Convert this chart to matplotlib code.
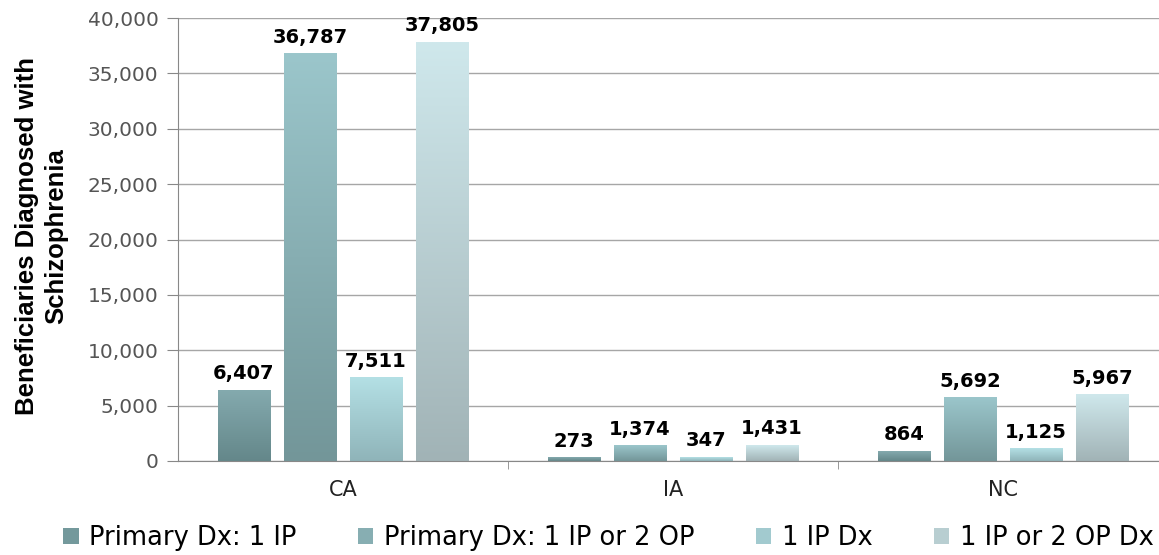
import numpy as np
import matplotlib
matplotlib.use("Agg")
import matplotlib.pyplot as plt
from matplotlib.colors import LinearSegmentedColormap, to_rgb
from matplotlib.patches import Patch
from matplotlib.ticker import FuncFormatter

states = ["CA", "IA", "NC"]
series = ["Primary Dx: 1 IP", "Primary Dx: 1 IP or 2 OP", "1 IP Dx", "1 IP or 2 OP Dx"]
primary_1ip = [6407, 273, 864]
primary_1ip_2op = [36787, 1374, 5692]
ip_dx = [7511, 347, 1125]
ip_op_dx = [37805, 1431, 5967]

# (bottom, top) colour of each series' vertical gradient
grads = [("#64878a", "#84aaae"),
         ("#739699", "#9bc6cb"),
         ("#8fb4b9", "#b4e0e5"),
         ("#a1b3b6", "#cfe8ec")]

fig = plt.figure(figsize=(11.59, 5.55), dpi=100)
ax = fig.add_axes([178 / 1159, 1 - 461 / 555, 990 / 1159, (461 - 18) / 555])

values = [primary_1ip, primary_1ip_2op, ip_dx, ip_op_dx]
x = np.arange(len(states))
w = 0.158
offsets = [-0.3, -0.1, 0.1, 0.3]
grad = np.linspace(0, 1, 256).reshape(-1, 1)

for vals, off, (c0, c1) in zip(values, offsets, grads):
    cmap = LinearSegmentedColormap.from_list("g", [c0, c1])
    for xi, v in zip(x, vals):
        left = xi + off - w / 2
        ax.imshow(grad, cmap=cmap, origin="lower", aspect="auto",
                  extent=[left, left + w, 0, v], zorder=2)
        ax.annotate(f"{v:,}", (xi + off, v), xytext=(0, 5),
                    textcoords="offset points", ha="center", va="bottom",
                    fontsize=14, fontweight="bold", color="black")

ax.set_xlim(-0.5, 2.5)
ax.set_ylim(0, 40000)
ax.set_yticks(np.arange(0, 40001, 5000))
ax.yaxis.set_major_formatter(FuncFormatter(lambda v, p: f"{int(v):,}"))
ax.set_xticks(x)
ax.set_xticklabels(states)
ax.set_xticks([0.5, 1.5], minor=True)
ax.tick_params(axis="x", which="major", length=0, pad=14, labelsize=15,
               labelcolor="#222222")
ax.tick_params(axis="x", which="minor", length=6, color="#888888", direction="out")
ax.tick_params(axis="y", length=8, color="#888888", pad=6, labelsize=14.5,
               labelcolor="#555555")

ax.grid(axis="y", color="#a6a6a6", linewidth=1, zorder=0)
ax.set_axisbelow(True)
for s in ["top", "right"]:
    ax.spines[s].set_visible(False)
ax.spines["left"].set_color("#888888")
ax.spines["bottom"].set_color("#888888")

fig.text(0.036, 0.575, "Beneficiaries Diagnosed with\nSchizophrenia", rotation=90,
         ha="center", va="center", fontsize=18.5, fontweight="bold",
         family=["Liberation Sans", "DejaVu Sans"], linespacing=1.25)

handles = [Patch(facecolor=(np.array(to_rgb(c0)) + np.array(to_rgb(c1))) / 2)
           for c0, c1 in grads]
fig.legend(handles, series, loc="lower center", bbox_to_anchor=(0.525, -0.035),
           ncol=4, frameon=False, handlelength=0.6, handleheight=0.6,
           handletextpad=0.4, columnspacing=2.4,
           prop={"family": "DejaVu Sans", "size": 18.5})

fig.savefig("out.png", dpi=100)
